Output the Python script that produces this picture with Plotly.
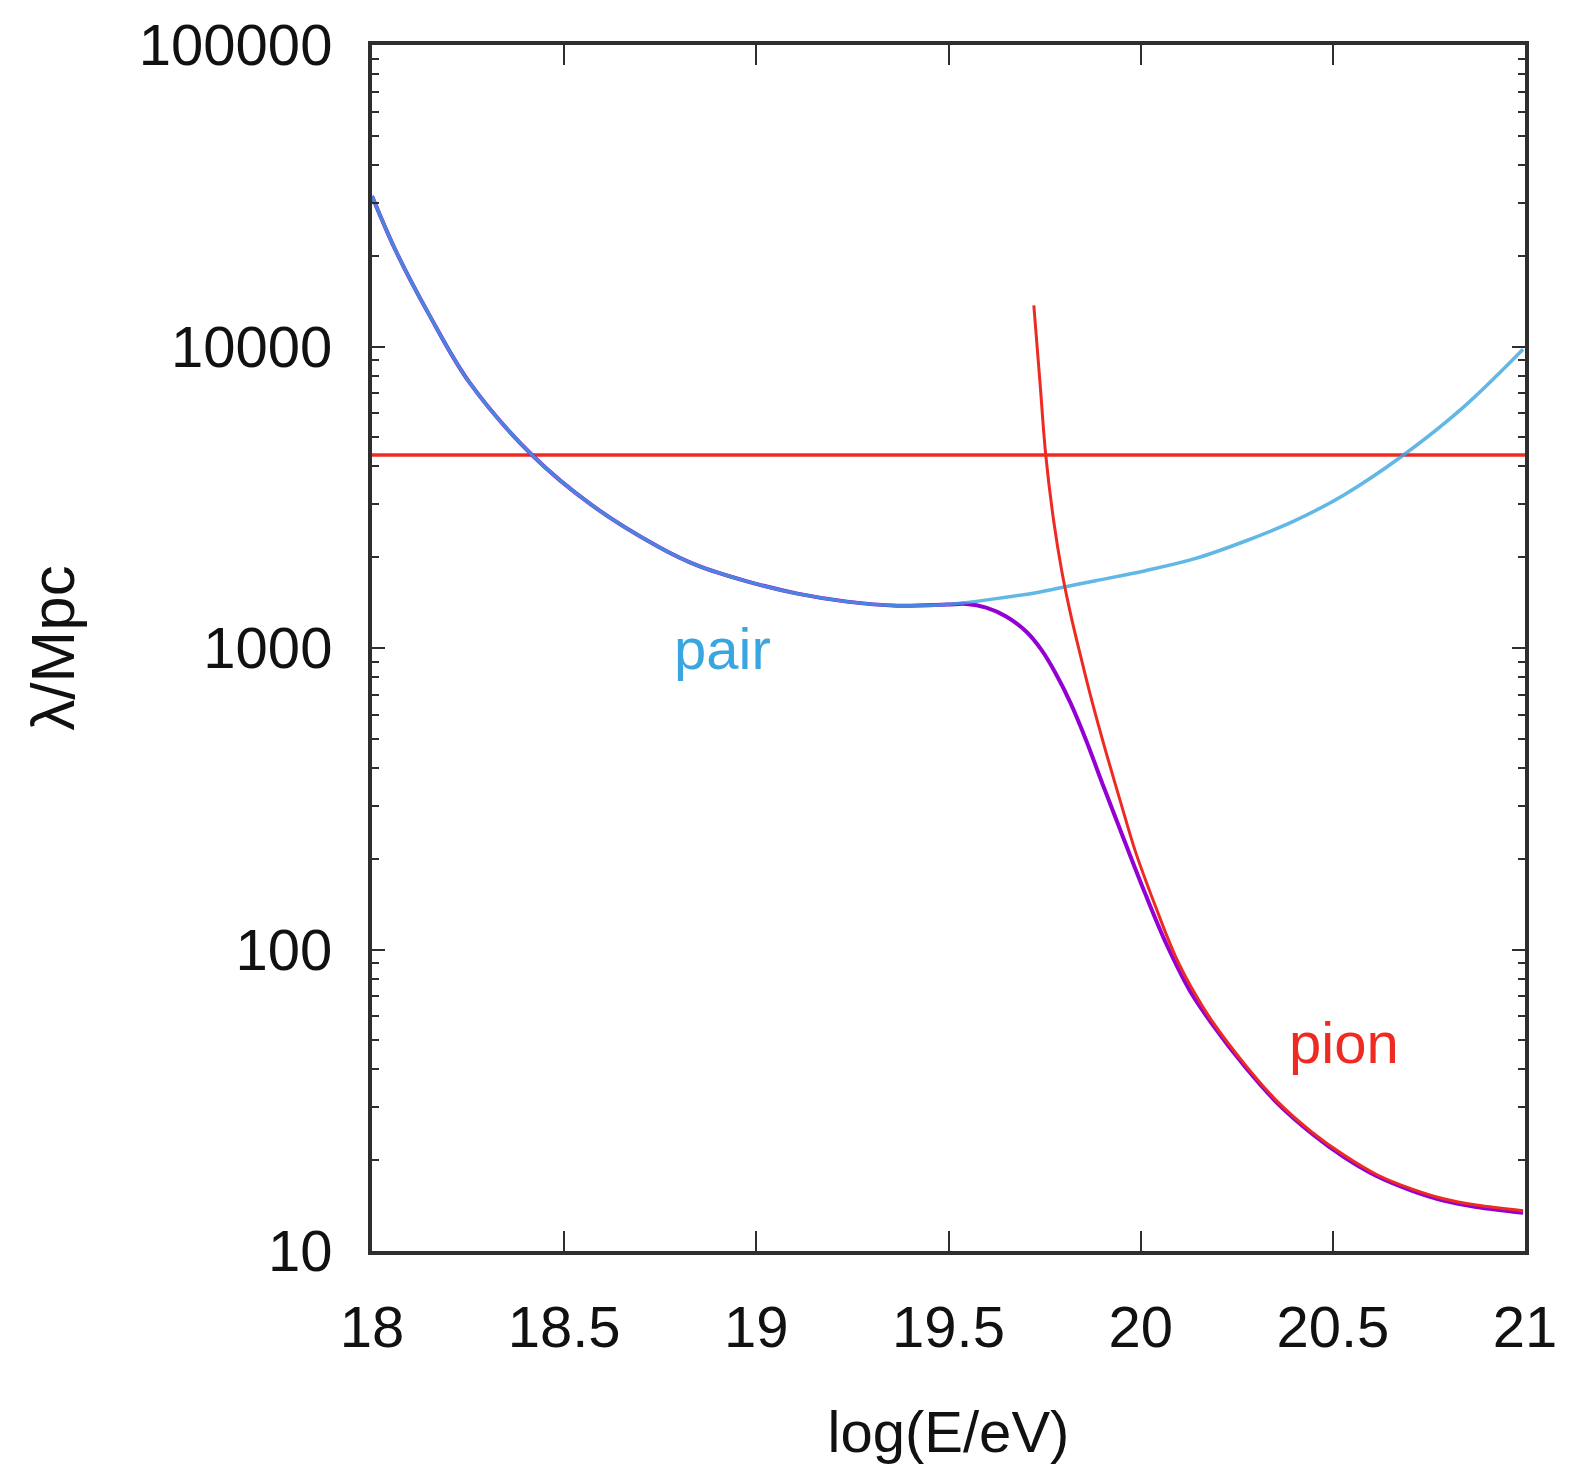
import plotly.graph_objects as go

# Energy-loss lengths of UHE protons on the CMB
# x: log10(E/eV), y: loss length lambda in Mpc

pair_E = [18.000, 18.064, 18.150, 18.253, 18.417, 18.572, 18.745, 18.848, 18.978,
          19.107, 19.236, 19.366, 19.495, 19.624, 19.728, 19.805, 19.883, 20.012,
          20.141, 20.271, 20.400, 20.529, 20.684, 20.840, 20.995]
pair_L = [31580, 20500, 12660, 7615, 4357, 2977, 2167, 1875, 1660,
          1515, 1425, 1382, 1393, 1458, 1526, 1597, 1672, 1805,
          1978, 2260, 2640, 3220, 4367, 6295, 9792]

total_E = [18.000, 18.064, 18.150, 18.253, 18.417, 18.572, 18.745, 18.848, 18.978,
           19.107, 19.236, 19.366, 19.495, 19.547, 19.598, 19.650, 19.702, 19.741,
           19.779, 19.818, 19.857, 19.903, 19.953, 20.012, 20.069, 20.128, 20.185,
           20.271, 20.356, 20.444, 20.529, 20.615, 20.703, 20.788, 20.873, 20.995]
total_L = [31580, 20500, 12660, 7615, 4357, 2977, 2167, 1875, 1660,
           1515, 1425, 1382, 1393, 1400, 1361, 1272, 1134, 989,
           823, 655, 498, 348, 238, 153, 102.9, 73.0, 56.8,
           40.9, 30.9, 24.6, 20.5, 17.7, 15.9, 14.7, 14.0, 13.4]

pion_E = [19.722, 19.738, 19.753, 19.774, 19.795, 19.818, 19.844, 19.870, 19.909,
          19.947, 19.986, 20.038, 20.090, 20.141, 20.185, 20.271, 20.356, 20.444,
          20.529, 20.615, 20.703, 20.788, 20.873, 20.995]
pion_L = [13690, 7615, 4367, 2621, 1791, 1291, 937, 691, 455,
          310.6, 212, 139.6, 95.3, 71.4, 58.1, 41.6, 31.3, 24.9,
          20.8, 17.9, 16.1, 14.9, 14.2, 13.6]

# adiabatic (expansion) loss length, constant
adiab_E = [18.0, 21.0]
adiab_L = [4367, 4367]

x_ticks = [18, 18.5, 19, 19.5, 20, 20.5, 21]
x_tick_text = ["18", "18.5", "19", "19.5", "20", "20.5", "21"]
y_ticks = [10, 100, 1000, 10000, 100000]
y_tick_text = ["10", "100", "1000", "10000", "100000"]

RED = "#ee2b22"
SKY = "#3aa6e0"
PURPLE = "#9400d3"
FONT = "Liberation Sans, Arial, Helvetica, sans-serif"
FRAME = "#2e2e2e"

fig = go.Figure()

fig.add_trace(go.Scatter(x=adiab_E, y=adiab_L, mode="lines",
                         line=dict(color=RED, width=3.5), hoverinfo="skip"))
fig.add_trace(go.Scatter(x=total_E, y=total_L, mode="lines",
                         line=dict(color=PURPLE, width=4, shape="spline", smoothing=1.0)))
fig.add_trace(go.Scatter(x=pair_E, y=pair_L, mode="lines", opacity=0.8,
                         line=dict(color=SKY, width=3.5, shape="spline", smoothing=1.0)))
fig.add_trace(go.Scatter(x=pion_E, y=pion_L, mode="lines",
                         line=dict(color=RED, width=3, shape="spline", smoothing=1.0)))

fig.add_annotation(x=18.913, y=3.0, xref="x", yref="y", text="pair", showarrow=False,
                   font=dict(family=FONT, size=58, color=SKY), yanchor="middle")
fig.add_annotation(x=20.529, y=1.69, xref="x", yref="y", text="pion", showarrow=False,
                   font=dict(family=FONT, size=58, color=RED), yanchor="middle")

axis_common = dict(showline=True, linecolor=FRAME, linewidth=4, mirror="allticks",
                   ticks="inside", tickcolor=FRAME, tickwidth=2,
                   showgrid=False, zeroline=False,
                   tickfont=dict(family=FONT, size=58, color="#111111"))

fig.update_xaxes(range=[18, 21], tickvals=x_ticks, ticktext=x_tick_text, ticklen=20,
                 ticklabelstandoff=22,
                 title=dict(text="log(E/eV)", font=dict(family=FONT, size=58, color="#111111"),
                            standoff=55),
                 **axis_common)
fig.update_yaxes(type="log", range=[1, 5], tickvals=y_ticks, ticktext=y_tick_text, ticklen=13,
                 ticklabelstandoff=24,
                 minor=dict(ticks="inside", ticklen=7, tickcolor=FRAME, tickwidth=2,
                            dtick="D1", showgrid=False),
                 title=dict(text="λ/Mpc", font=dict(family=FONT, size=62, color="#111111"),
                            standoff=45),
                 **axis_common)

fig.update_layout(width=1569, height=1479, showlegend=False,
                  margin=dict(l=372, r=37, t=42, b=228),
                  paper_bgcolor="white", plot_bgcolor="white")

fig.write_html("out.html")
